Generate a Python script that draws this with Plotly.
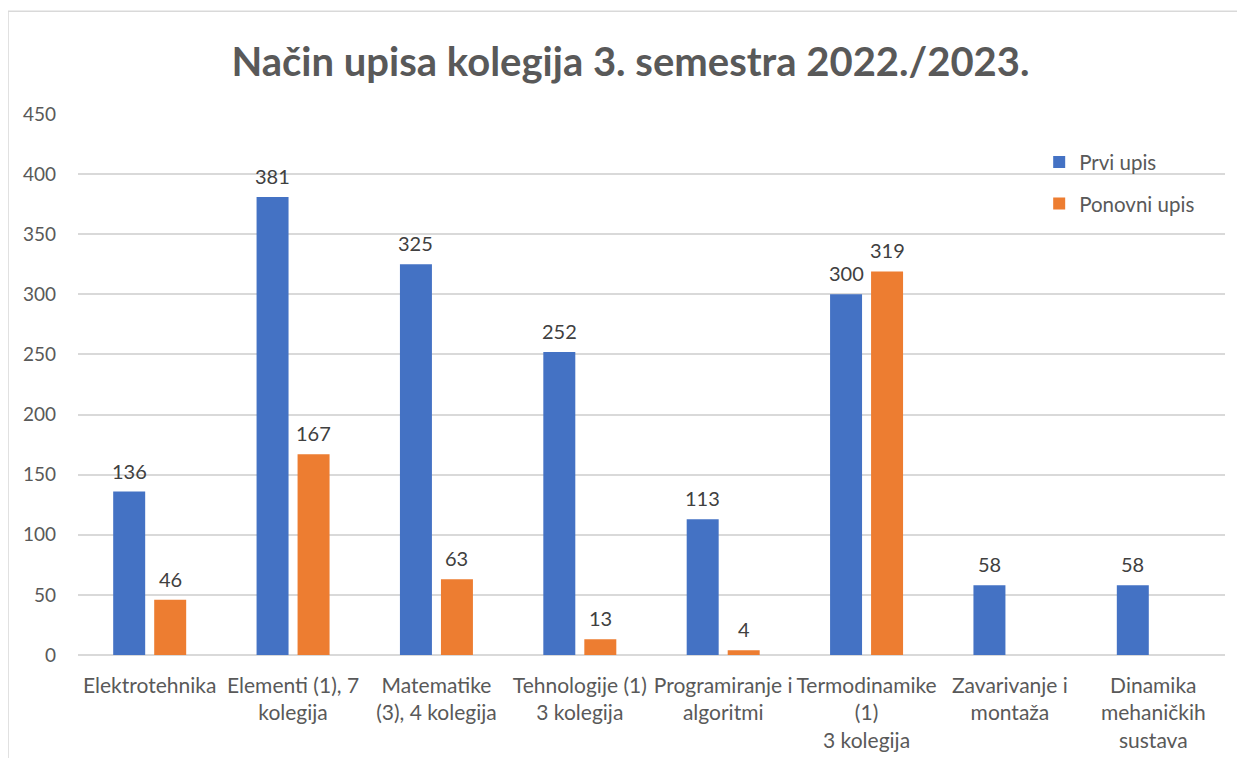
import plotly.graph_objects as go

categories = [
    "Elektrotehnika",
    "Elementi (1), 7<br>kolegija",
    "Matematike<br>(3), 4 kolegija",
    "Tehnologije (1)<br>3 kolegija",
    "Programiranje i<br>algoritmi",
    "Termodinamike<br>(1)<br>3 kolegija",
    "Zavarivanje i<br>montaža",
    "Dinamika<br>mehaničkih<br>sustava",
]
prvi_upis = [136, 381, 325, 252, 113, 300, 58, 58]
ponovni_upis = [46, 167, 63, 13, 4, 319, None, None]
y_ticks = [0, 50, 100, 150, 200, 250, 300, 350, 400, 450]

FONT = "Lato"
GRAY = "#595959"

fig = go.Figure()
fig.add_trace(go.Bar(
    name="Prvi upis", x=categories, y=prvi_upis,
    marker=dict(color="#4472C4", line=dict(width=0)),
    legendgroup="a",
))
fig.add_trace(go.Bar(
    name="Ponovni upis", x=categories, y=ponovni_upis,
    marker=dict(color="#ED7D31", line=dict(width=0)),
    legendgroup="b",
))

# data labels above each bar (positioned via the axis scales)
annotations = []
for series, shift in ((prvi_upis, -20.5), (ponovni_upis, 20.5)):
    for cat, v in zip(categories, series):
        if v is None:
            continue
        annotations.append(dict(
            x=cat, y=v, xref="x", yref="y", text=str(v), showarrow=False,
            xshift=shift, yshift=21, yanchor="middle", xanchor="center",
            font=dict(family=FONT, size=20, color="#404040"),
        ))

fig.update_layout(
    width=1245, height=758,
    paper_bgcolor="white", plot_bgcolor="white",
    margin=dict(l=70, r=28, t=106, b=111),
    barmode="group", bargap=0.428, bargroupgap=0.22,
    title=dict(
        text="<b>Način upisa kolegija 3. semestra 2022./2023.</b>",
        x=0.5, xref="container", xanchor="center",
        y=0.929, yref="container", yanchor="middle",
        font=dict(family=FONT, size=40, color=GRAY),
    ),
    font=dict(family=FONT, size=20, color=GRAY),
    legend=dict(
        x=0.838, y=0.948, xanchor="left", yanchor="top",
        font=dict(family=FONT, size=20.5, color=GRAY),
        tracegroupgap=12, bgcolor="rgba(0,0,0,0)",
        itemwidth=30,
    ),
    xaxis=dict(
        showgrid=False, showline=False, ticks="",
        tickfont=dict(family=FONT, size=21, color=GRAY),
        ticklabelstandoff=16,
    ),
    yaxis=dict(
        range=[0, 450], tickvals=y_ticks,
        showgrid=True, gridcolor="#D9D9D9", gridwidth=1.5,
        zeroline=True, zerolinecolor="#D9D9D9", zerolinewidth=1.5,
        showline=False, ticks="",
        tickfont=dict(family=FONT, size=19, color=GRAY),
        ticklabelstandoff=21,
    ),
    annotations=annotations,
    shapes=[dict(
        type="rect", xref="paper", yref="paper",
        x0=-0.061, x1=1.03, y0=-0.25, y1=1.19,
        line=dict(color="#D9D9D9", width=1.5), fillcolor="rgba(0,0,0,0)",
        layer="below",
    )],
)

fig.write_html("out.html")
